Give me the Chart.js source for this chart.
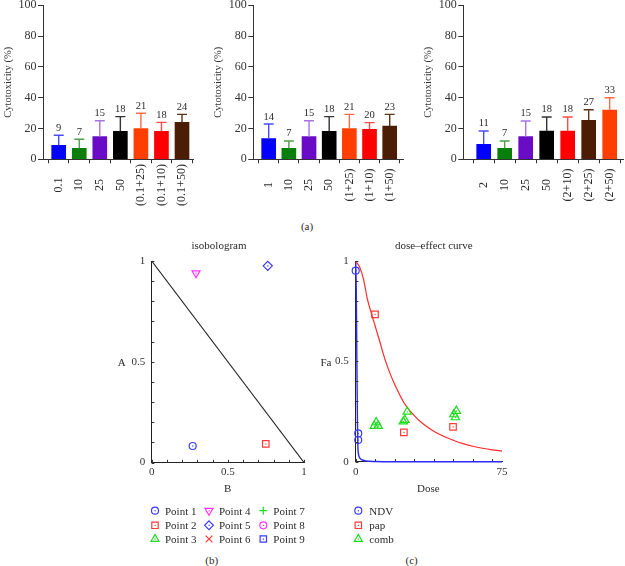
<!DOCTYPE html>
<html><head><meta charset="utf-8">
<script src="https://cdn.jsdelivr.net/npm/chart.js@4"></script>
<style>
html,body{margin:0;padding:0;background:#fff;}
body{width:625px;height:566px;position:relative;overflow:hidden;font-family:"Liberation Serif",serif;color:#2a2a2a;}
canvas{position:absolute;}
.t{position:absolute;font-size:11px;white-space:nowrap;line-height:1;}
.c{transform:translate(-50%,-50%);}
.l{transform:translate(0,-50%);}
</style></head><body>
<script>
// ---------------- DATA ----------------
// Panel (a) – three bar charts (mean, upper error bar end, printed label)
const catsA   = ['0.1','10','25','50','(0.1+25)','(0.1+10)','(0.1+50)'];
const meansA  = [9.1, 7.1, 14.7, 18.2, 19.9, 18.2, 24.0];
const errA    = [15.6, 13.0, 25.0, 27.7, 29.9, 24.0, 29.2];
const labelsA = ['9','7','15','18','21','18','24'];

const catsB   = ['1','10','25','50','(1+25)','(1+10)','(1+50)'];
const meansB  = [13.4, 7.1, 14.7, 18.2, 19.9, 19.5, 21.6];
const errB    = [22.9, 11.9, 25.0, 27.7, 29.2, 23.8, 29.2];
const labelsB = ['14','7','15','18','21','20','23'];

const catsC   = ['2','10','25','50','(2+10)','(2+25)','(2+50)'];
const meansC  = [9.7, 7.1, 14.7, 18.4, 18.4, 25.3, 32.0];
const errC    = [18.4, 11.9, 24.9, 27.5, 27.5, 32.2, 40.0];
const labelsC = ['11','7','15','18','18','27','33'];

const yTicksBar = [0,20,40,60,80,100];

// Panel (b) – isobologram
const isoPt1 = [{x:0.269, y:0.082}];
const isoPt2 = [{x:0.749, y:0.092}];
const isoPt4 = [{x:0.291, y:0.940}];
const isoPt5 = [{x:0.762, y:0.976}];
const isoLine = [{x:0, y:1}, {x:1, y:0}];
const isoTicks = [0,0.1,0.2,0.3,0.4,0.5,0.6,0.7,0.8,0.9,1];
const isoTickLabels = [0, 0.5, 1];
const legendB = ['Point 1','Point 2','Point 3','Point 4','Point 5','Point 6','Point 7','Point 8','Point 9'];

// Panel (c) – dose-effect curve
const papCurveDose = [0,2,4,6,8,10,12,15,18,20,25,30,35,40,45,50,55,60,65,70,75];
const papCurveFa   = [1.0,0.97,0.91,0.81,0.74,0.675,0.61,0.51,0.43,0.385,0.29,0.23,0.185,0.152,0.127,0.107,0.09,0.077,0.067,0.059,0.053];
const ndvCurveDose = [0,0.3,0.6,0.9,1.1,1.4,2,3,5,10,20,75];
const ndvCurveFa   = [1.0,0.85,0.5,0.2,0.08,0.04,0.02,0.01,0.004,0.001,0,0];
const ndvDose = [0, 1.3, 1.3];
const ndvFa   = [0.952, 0.141, 0.108];
const papDose = [9.9, 24.7, 49.9];
const papFa   = [0.734, 0.146, 0.174];
const combDose = [9.5, 11.6, 10.5, 26.4, 24.4, 25.2, 51.6, 50.3, 51.1];
const combFa   = [0.178, 0.178, 0.196, 0.249, 0.200, 0.208, 0.253, 0.236, 0.221];
const doseTicks = [0,10,20,30,40,50,60,70];
const faTicks = [0,0.1,0.2,0.3,0.4,0.5,0.6,0.7,0.8,0.9,1];
const doseTickLabels = [0, 75];
const faTickLabels = [0, 0.5, 1];
const legendC = ['NDV','pap','comb'];

// ---------------- STYLES ----------------
const BLUE='#0000ff', GREEN='#0a7e0a', PURPLE='#6a0cc6', BLACK='#000000', ORANGE='#ff3f00', RED='#ff0000', BROWN='#4b1d05';
const eBLUE='#4a4aff', eGREEN='#4f9f4f', ePURPLE='#a574e6', eBLACK='#333333', eORANGE='#ff6c4a', eRED='#ff4a4a', eBROWN='#5a3418';
const colA=[BLUE,GREEN,PURPLE,BLACK,ORANGE,RED,BROWN], ecolA=[eBLUE,eGREEN,ePURPLE,eBLACK,eORANGE,eRED,eBROWN];
const colC=[BLUE,GREEN,PURPLE,BLACK,RED,BROWN,ORANGE], ecolC=[eBLUE,eGREEN,ePURPLE,eBLACK,eRED,eBROWN,eORANGE];
const mBLUE='#3a3aff', mRED='#ff3a3a', mGREEN='#1fdc1f', mMAG='#ff33ff';
const FONT='"Liberation Serif", "Times New Roman", serif';

Chart.defaults.font.family = FONT;
Chart.defaults.color = '#333';

function mk(left, top, w, h){
  const c=document.createElement('canvas');
  c.width=w; c.height=h;
  c.style.left=left+'px'; c.style.top=top+'px'; c.style.width=w+'px'; c.style.height=h+'px';
  document.body.appendChild(c); return c;
}
function txt(s, x, y, cls, size, extra){
  const d=document.createElement('div');
  d.className='t '+cls; d.textContent=s;
  d.style.left=x+'px'; d.style.top=y+'px';
  if(size) d.style.fontSize=size+'px';
  if(extra) Object.assign(d.style, extra);
  document.body.appendChild(d); return d;
}

// error bars, value labels, rotated category labels
const barExtras = {
  id:'barExtras',
  afterDatasetsDraw(chart, args, o){
    if(!o || !o.errs) return;
    const xs=chart.scales.x, ys=chart.scales.y, ctx=chart.ctx;
    ctx.save();
    o.errs.forEach((e,i)=>{
      const x=xs.getPixelForValue(i), y0=ys.getPixelForValue(o.means[i]), y1=ys.getPixelForValue(e);
      ctx.strokeStyle=o.ecol[i]; ctx.lineWidth=1.4;
      ctx.beginPath(); ctx.moveTo(x,y0); ctx.lineTo(x,y1); ctx.moveTo(x-5,y1); ctx.lineTo(x+5,y1); ctx.stroke();
      ctx.fillStyle='#2a2a2a'; ctx.font='10.5px '+FONT; ctx.textAlign='center'; ctx.textBaseline='alphabetic';
      ctx.fillText(o.labels[i], x, y1-4.5);
      ctx.save(); ctx.translate(x, o.labelY); ctx.rotate(-Math.PI/2);
      ctx.font='12px '+FONT; ctx.textBaseline='middle'; ctx.textAlign='center';
      ctx.fillText(o.cats[i], 0, 0); ctx.restore();
    });
    ctx.restore();
  }
};
// inward tick marks
const inTicks = {
  id:'inTicks',
  afterDraw(chart, args, o){
    if(!o || !o.x) return;
    const xs=chart.scales.x, ys=chart.scales.y, ctx=chart.ctx, a=chart.chartArea;
    ctx.save(); ctx.strokeStyle='#333'; ctx.lineWidth=1;
    ctx.beginPath();
    o.x.forEach(v=>{const p=Math.round(xs.getPixelForValue(v))+0.5; ctx.moveTo(p,a.bottom); ctx.lineTo(p,a.bottom-o.len);});
    o.y.forEach(v=>{const p=Math.round(ys.getPixelForValue(v))+0.5; ctx.moveTo(a.left,p); ctx.lineTo(a.left+o.len,p);});
    ctx.stroke(); ctx.restore();
  }
};
// small center dot in markers
const centerDot = {
  id:'centerDot',
  afterDatasetsDraw(chart){
    const ctx=chart.ctx;
    chart.data.datasets.forEach((ds,i)=>{
      if(!ds.centerDot) return;
      chart.getDatasetMeta(i).data.forEach(el=>{ ctx.fillStyle=ds.borderColor; ctx.fillRect(el.x-0.5, el.y-0.5, 1.2, 1.2); });
    });
  }
};
Chart.register(barExtras, inTicks, centerDot);

function barChart(left, w, yw, padR, xmin, xmax, cats, means, errs, labels, col, ecol){
  const H=212, BOTTOM=159.3;
  const c=mk(left,0,w,H);
  return new Chart(c, {
    type:'bar',
    data:{datasets:[{data:means.map((v,i)=>({x:i,y:v})), backgroundColor:col, borderWidth:0, barThickness:14}]},
    options:{
      responsive:false, animation:false, devicePixelRatio:1,
      layout:{padding:{top:5.3,right:padR,left:0,bottom:0}},
      plugins:{legend:{display:false}, tooltip:{enabled:false},
        barExtras:{cats, means, errs, labels, ecol, labelY:185}},
      scales:{
        x:{type:'linear', min:xmin, max:xmax, offset:false,
           afterBuildTicks:s=>{s.ticks=cats.map((_,i)=>({value:i}));},
           ticks:{display:false},
           grid:{drawOnChartArea:false, drawTicks:true, tickLength:4, color:'#333', lineWidth:1},
           border:{color:'#333', width:1},
           afterFit:s=>{s.height=H-BOTTOM; s.paddingLeft=0; s.paddingRight=0;}},
        y:{type:'linear', min:0, max:100,
           afterBuildTicks:s=>{s.ticks=yTicksBar.map(v=>({value:v}));},
           ticks:{padding:1.5, font:{size:12}, color:'#333'},
           grid:{drawOnChartArea:false, tickLength:5, color:'#333'},
           border:{color:'#333', width:1},
           title:{display:true, text:'Cytotoxicity (%)', font:{size:10.5}, color:'#333', padding:{top:1.5,bottom:0}},
           afterFit:s=>{s.width=yw; s.paddingTop=0; s.paddingBottom=0;}}
      }
    }
  });
}

barChart(0,   205, 43,   12, -0.764, 6.535, catsA, meansA, errA, labelsA, colA, ecolA);
barChart(210, 205, 43.3, 12, -0.763, 6.659, catsB, meansB, errB, labelsB, colA, ecolA);
barChart(420, 205, 43.3, 2,  -0.971, 6.634, catsC, meansC, errC, labelsC, colC, ecolC);

txt('(a)', 307, 226, 'c', 11);

function labCb(list){ return v => { const f=list.find(t=>Math.abs(t-v)<1e-9); return f===undefined?'':String(f); }; }
function pts(xa, ya){ return xa.map((x,i)=>({x, y:ya[i]})); }
function sc(data, style, color, r, rot){
  return {type:'scatter', data, pointStyle:style, pointRadius:r, pointRotation:rot||0, borderColor:color, pointBorderColor:color,
          backgroundColor:'rgba(0,0,0,0)', pointBackgroundColor:'rgba(0,0,0,0)', pointBorderWidth:1.2, showLine:false, clip:false, centerDot:true};
}

// -------- isobologram --------
(function(){
  const L=100, T=230, W=215, H=270;
  const c=mk(L,T,W,H);
  new Chart(c, {
    type:'scatter',
    data:{datasets:[
      sc(isoPt1,'circle',mBLUE,3.5),
      sc(isoPt2,'rect',mRED,4.6),
      sc(isoPt4,'triangle',mMAG,4.6,180),
      sc(isoPt5,'rectRot',mBLUE,4.6),
      {type:'line', data:isoLine, borderColor:'#222', borderWidth:1.2, pointRadius:0, clip:false}
    ]},
    options:{
      responsive:false, animation:false, devicePixelRatio:1,
      layout:{padding:{top:261-T, right:L+W-304, left:0, bottom:0}},
      plugins:{legend:{display:false}, tooltip:{enabled:false}, inTicks:{x:isoTicks, y:isoTicks, len:2.7}},
      scales:{
        x:{type:'linear', min:0, max:1,
           afterBuildTicks:s=>{s.ticks=isoTicks.map(v=>({value:v}));},
           ticks:{autoSkip:false, maxRotation:0, padding:3.5, font:{size:11}, color:'#333', callback:labCb(isoTickLabels)},
           grid:{drawOnChartArea:false, drawTicks:false}, border:{color:'#222', width:1},
           afterFit:s=>{s.height=H-(462.5-T); s.paddingLeft=0; s.paddingRight=0;}},
        y:{type:'linear', min:0, max:1,
           afterBuildTicks:s=>{s.ticks=isoTicks.map(v=>({value:v}));},
           ticks:{autoSkip:false, padding:6.5, font:{size:11}, color:'#333', callback:labCb(isoTickLabels)},
           grid:{drawOnChartArea:false, drawTicks:false}, border:{color:'#222', width:1},
           afterFit:s=>{s.width=151.7-L; s.paddingTop=0; s.paddingBottom=0;}}
      }
    }
  });
})();

// -------- dose-effect curve --------
(function(){
  const L=320, T=230, W=195, H=270;
  const c=mk(L,T,W,H);
  new Chart(c, {
    type:'scatter',
    data:{datasets:[
      sc(pts(ndvDose,ndvFa),'circle',mBLUE,3.5),
      sc(pts(papDose,papFa),'rect',mRED,4.6),
      sc(pts(combDose,combFa),'triangle',mGREEN,4.8),
      {type:'line', data:pts(papCurveDose,papCurveFa), borderColor:'#ff2a2a', borderWidth:1.2, pointRadius:0, cubicInterpolationMode:'monotone', clip:false},
      {type:'line', data:pts(ndvCurveDose,ndvCurveFa), borderColor:'#2a2aff', borderWidth:1.4, pointRadius:0, cubicInterpolationMode:'monotone', clip:false}
    ]},
    options:{
      responsive:false, animation:false, devicePixelRatio:1,
      layout:{padding:{top:261-T, right:L+W-502, left:0, bottom:0}},
      plugins:{legend:{display:false}, tooltip:{enabled:false}, inTicks:{x:doseTicks, y:faTicks, len:2.7}},
      scales:{
        x:{type:'linear', min:0, max:75,
           afterBuildTicks:s=>{s.ticks=doseTickLabels.map(v=>({value:v}));},
           ticks:{autoSkip:false, maxRotation:0, padding:3.5, font:{size:11}, color:'#333', callback:labCb(doseTickLabels)},
           grid:{drawOnChartArea:false, drawTicks:false}, border:{color:'#222', width:1},
           afterFit:s=>{s.height=H-(461.7-T); s.paddingLeft=0; s.paddingRight=0;}},
        y:{type:'linear', min:0, max:1,
           afterBuildTicks:s=>{s.ticks=faTicks.map(v=>({value:v}));},
           ticks:{autoSkip:false, padding:7, font:{size:11}, color:'#333', callback:labCb(faTickLabels)},
           grid:{drawOnChartArea:false, drawTicks:false}, border:{color:'#222', width:1},
           afterFit:s=>{s.width=355.7-L; s.paddingTop=0; s.paddingBottom=0;}}
      }
    }
  });
})();

// titles & axis titles
txt('isobologram', 219, 245, 'c', 11);
txt('dose\u2013effect curve', 433.8, 245, 'c', 11);
txt('A', 121.7, 361.7, 'c', 11);
txt('Fa', 326, 361.7, 'c', 11);
txt('B', 227.7, 488.3, 'c', 11);
txt('Dose', 428.3, 488.3, 'c', 11);
txt('(b)', 211.7, 560, 'c', 11);
txt('(c)', 411.7, 560, 'c', 11);

// -------- legends --------
const lg = mk(140,500,280,50);
const g = lg.getContext('2d');
function marker(style, x, y, col){
  x-=140; y-=500;
  g.save(); g.strokeStyle=col; g.fillStyle=col; g.lineWidth=1.2; g.beginPath();
  if(style==='circle'){ g.arc(x,y,3.5,0,Math.PI*2); }
  else if(style==='rect'){ g.rect(x-3.2,y-3.2,6.4,6.4); }
  else if(style==='tri'){ g.moveTo(x,y-4.6); g.lineTo(x+4,y+2.3); g.lineTo(x-4,y+2.3); g.closePath(); }
  else if(style==='triDown'){ g.moveTo(x,y+4.6); g.lineTo(x+4,y-2.3); g.lineTo(x-4,y-2.3); g.closePath(); }
  else if(style==='diamond'){ g.moveTo(x,y-4.4); g.lineTo(x+4.4,y); g.lineTo(x,y+4.4); g.lineTo(x-4.4,y); g.closePath(); }
  else if(style==='plus'){ g.moveTo(x-4,y); g.lineTo(x+4,y); g.moveTo(x,y-4); g.lineTo(x,y+4); }
  else if(style==='cross'){ g.moveTo(x-3.4,y-3.4); g.lineTo(x+3.4,y+3.4); g.moveTo(x+3.4,y-3.4); g.lineTo(x-3.4,y+3.4); }
  g.stroke();
  if(style!=='plus' && style!=='cross') g.fillRect(x-0.5,y-0.5,1.2,1.2);
  g.restore();
}
const bStyles=[['circle',mBLUE],['rect',mRED],['tri',mGREEN],['triDown',mMAG],['diamond',mBLUE],['cross',mRED],['plus',mGREEN],['circle',mMAG],['rect',mBLUE]];
const rowsY=[510.7,525.3,539], colMX=[155,209,263.3];
legendB.forEach((s,i)=>{
  const col=Math.floor(i/3), row=i%3;
  marker(bStyles[i][0], colMX[col], rowsY[row], bStyles[i][1]);
  txt(s, colMX[col]+10, rowsY[row], 'l', 11);
});
const cStyles=[['circle',mBLUE],['rect',mRED],['tri',mGREEN]];
legendC.forEach((s,i)=>{
  marker(cStyles[i][0], 358.3, rowsY[i], cStyles[i][1]);
  txt(s, 369.3, rowsY[i], 'l', 11);
});
</script>
</body></html>
